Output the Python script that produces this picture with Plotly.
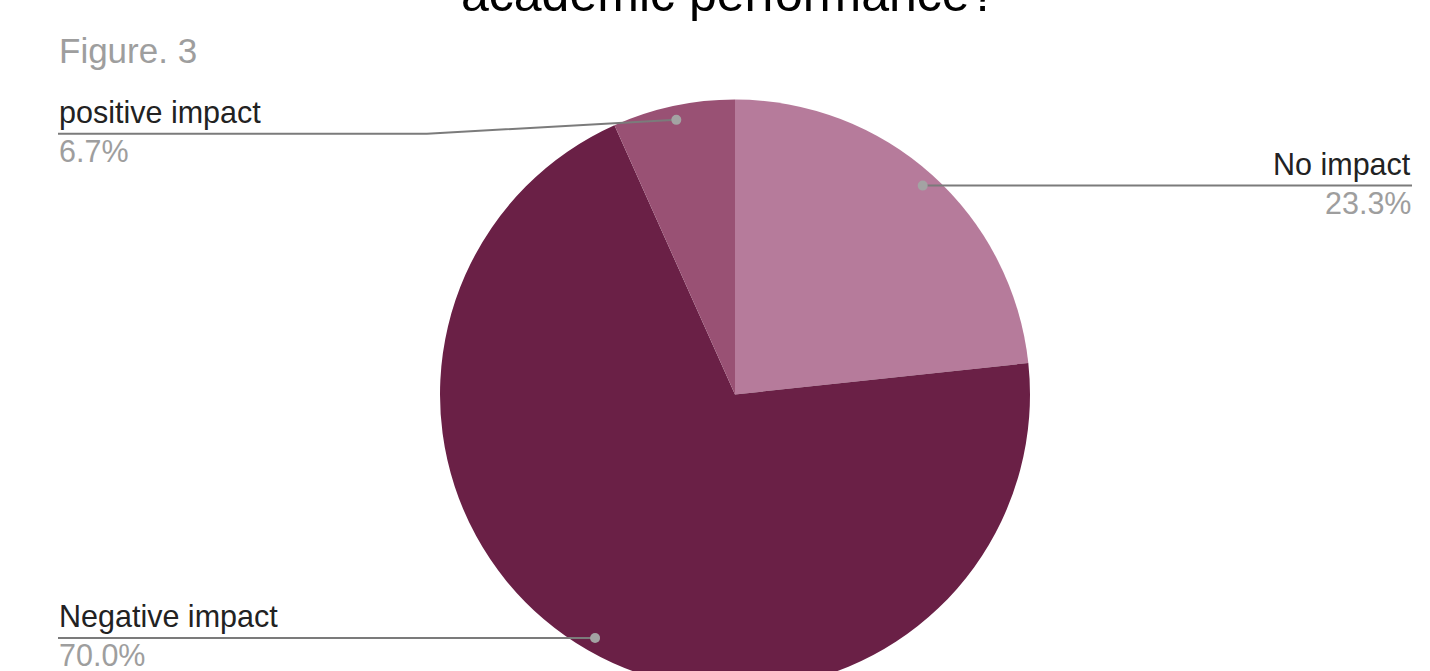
import math
import plotly.graph_objects as go

# Survey answers and their shares (%)
labels = ["No impact", "Negative impact", "positive impact"]
shares = [23.3, 70.0, 6.7]
slice_colors = ["#b67b9b", "#6a2046", "#995174"]

title_text = "academic performance?"
caption_text = "Figure. 3"

# Canvas geometry (pixels)
W, H = 1430, 720
CX, CY, R = 735, 394.5, 295
DOT_R = 0.952 * R
FONT = "Liberation Sans, Arial, sans-serif"
FS = 30.5
CAPTION_FS = 35
TITLE_FS = 50

# Where each label sits: side of the chart, and the y of its leader line
label_layout = {
    "No impact": {"side": "right", "line_y": None},
    "Negative impact": {"side": "left", "line_y": None},
    "positive impact": {"side": "left", "line_y": 133.7, "bend_x": 427},
}
LEFT_X, RIGHT_X = 58, 1412

fig = go.Figure()

fig.add_trace(go.Pie(
    labels=labels,
    values=shares,
    marker=dict(colors=slice_colors, line=dict(width=0)),
    sort=False,
    direction="clockwise",
    rotation=0,
    textinfo="none",
    hoverinfo="label+percent",
    showlegend=False,
    domain=dict(
        x=[(CX - R) / W, (CX + R) / W],
        y=[1 - (CY + R) / H, 1 - (CY - R) / H],
    ),
))

annotations = []
shapes = []
total = sum(shares)
cum = 0.0
for lab, val in zip(labels, shares):
    mid = (cum + val / 2) / total
    cum += val
    th = 2 * math.pi * mid
    dx = CX + DOT_R * math.sin(th)
    dy = CY - DOT_R * math.cos(th)
    spec = label_layout[lab]
    ly = spec["line_y"] if spec["line_y"] is not None else dy
    if spec["side"] == "left":
        pts = [(LEFT_X, ly)]
        if "bend_x" in spec:
            pts.append((spec["bend_x"], ly))
        pts.append((dx, dy))
        tx, anchor = LEFT_X - 1, "left"
    else:
        pts = [(dx, dy), (RIGHT_X, ly)]
        tx, anchor = RIGHT_X + 1, "right"
    path = "M " + " L ".join(f"{px:.2f},{py:.2f}" for px, py in pts)
    # leader line and end dot, drawn above the pie
    shapes.append(dict(
        type="path", path=path, xref="x", yref="y", layer="above",
        line=dict(color="#7b7b7b", width=2),
    ))
    shapes.append(dict(
        type="circle", xref="x", yref="y", layer="above",
        x0=dx - 5, x1=dx + 5, y0=dy - 5, y1=dy + 5,
        fillcolor="#a3a3a3", line=dict(width=0),
    ))
    annotations.append(dict(
        x=tx, y=ly - 9.5 + 0.212 * FS + 1, xref="x", yref="y",
        text=lab, showarrow=False, xanchor=anchor, yanchor="bottom",
        font=dict(family=FONT, size=FS, color="#222222"),
    ))
    annotations.append(dict(
        x=tx, y=ly + 29 + 0.212 * FS + 1, xref="x", yref="y",
        text=f"{val:.1f}%", showarrow=False, xanchor=anchor, yanchor="bottom",
        font=dict(family=FONT, size=FS, color="#9e9e9e"),
    ))

annotations.append(dict(
    x=LEFT_X - 1, y=64 + 0.212 * CAPTION_FS + 1, xref="x", yref="y",
    text=caption_text, showarrow=False, xanchor="left", yanchor="bottom",
    font=dict(family=FONT, size=CAPTION_FS, color="#9e9e9e"),
))
annotations.append(dict(
    x=729, y=12 + 0.212 * TITLE_FS + 1, xref="x", yref="y",
    text=title_text, showarrow=False, xanchor="center", yanchor="bottom",
    font=dict(family=FONT, size=TITLE_FS, color="#000000"),
))

fig.update_layout(
    width=W, height=H,
    margin=dict(l=0, r=0, t=0, b=0),
    paper_bgcolor="white", plot_bgcolor="rgba(0,0,0,0)",
    xaxis=dict(range=[0, W], visible=False, fixedrange=True),
    yaxis=dict(range=[H, 0], visible=False, fixedrange=True),
    annotations=annotations,
    shapes=shapes,
    showlegend=False,
)

fig.write_html(
    "out.html",
    config={"displayModeBar": False},
    post_script="document.body.style.margin='0';document.body.style.overflow='hidden';",
)
